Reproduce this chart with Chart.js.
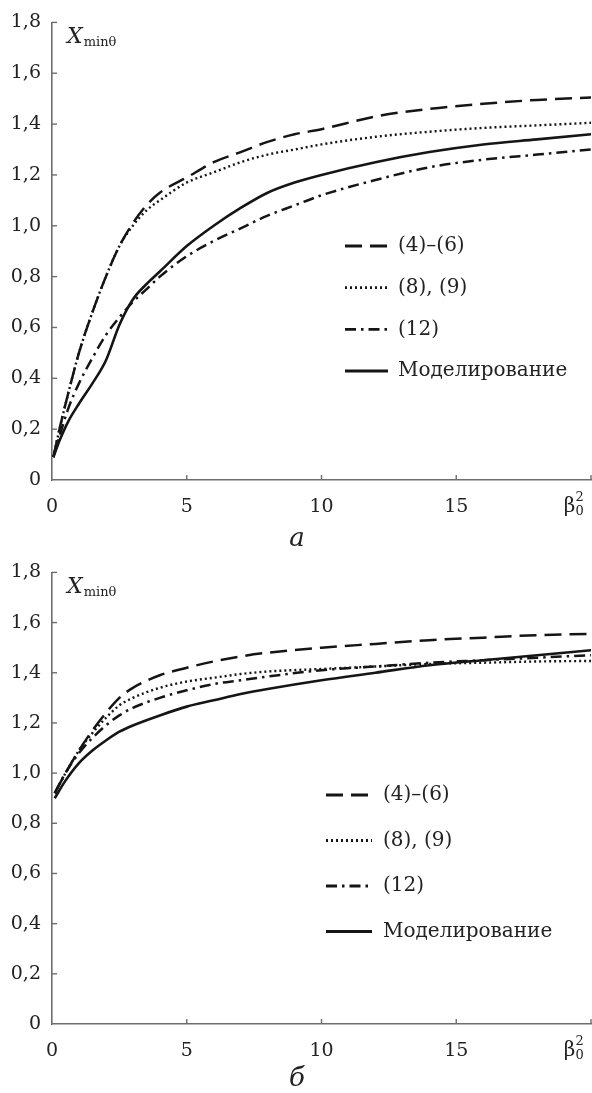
<!DOCTYPE html>
<html>
<head>
<meta charset="utf-8">
<script src="https://cdn.jsdelivr.net/npm/chart.js@4.4.0/dist/chart.umd.min.js"></script>
<style>
  html, body { margin: 0; padding: 0; background: #fff; }
  .panel { position: relative; width: 592px; }
  #boxA { height: 550px; }
  #boxB { height: 543px; }
</style>
</head>
<body>
<div class="panel" id="boxA"><canvas id="chartA"></canvas></div>
<div class="panel" id="boxB"><canvas id="chartB"></canvas></div>
<script>
// legend texts (same in both panels)
var seriesLabels = ['(4)–(6)', '(8), (9)', '(12)', 'Моделирование'];
var yTickValues = [0, 0.2, 0.4, 0.6, 0.8, 1.0, 1.2, 1.4, 1.6, 1.8];
var xTickValues = [0, 5, 10, 15];

// panel a
var xA        = [0.05, 0.3, 0.6, 1, 1.5, 2, 2.5, 3, 3.5, 4, 5, 6, 7, 8, 9, 10, 12, 14, 16, 18, 20];
var dashedA   = [0.09, 0.21, 0.34, 0.50, 0.66, 0.80, 0.92, 1.01, 1.08, 1.13, 1.19, 1.25, 1.29, 1.33, 1.36, 1.38, 1.43, 1.46, 1.48, 1.495, 1.505];
var dottedA   = [0.09, 0.21, 0.34, 0.50, 0.66, 0.80, 0.92, 1.00, 1.06, 1.10, 1.17, 1.21, 1.25, 1.28, 1.30, 1.32, 1.35, 1.37, 1.385, 1.395, 1.405];
var dashDotA  = [0.09, 0.18, 0.28, 0.38, 0.48, 0.57, 0.64, 0.70, 0.75, 0.80, 0.88, 0.94, 0.99, 1.04, 1.08, 1.12, 1.18, 1.23, 1.26, 1.28, 1.30];
var solidA    = [0.09, 0.16, 0.23, 0.30, 0.38, 0.47, 0.61, 0.71, 0.77, 0.82, 0.92, 1.00, 1.07, 1.13, 1.17, 1.20, 1.25, 1.29, 1.32, 1.34, 1.36];

// panel б
var xB        = [0.1, 0.5, 1, 1.5, 2, 2.5, 3, 4, 5, 6, 7, 8, 10, 12, 14, 16, 18, 20];
var dashedB   = [0.92, 1.00, 1.09, 1.17, 1.24, 1.30, 1.34, 1.39, 1.42, 1.445, 1.465, 1.48, 1.50, 1.515, 1.53, 1.54, 1.55, 1.555];
var dottedB   = [0.92, 1.00, 1.09, 1.16, 1.22, 1.27, 1.30, 1.34, 1.365, 1.38, 1.395, 1.405, 1.415, 1.425, 1.435, 1.44, 1.445, 1.447];
var dashDotB  = [0.92, 1.00, 1.08, 1.14, 1.19, 1.23, 1.26, 1.30, 1.33, 1.355, 1.37, 1.385, 1.41, 1.425, 1.44, 1.45, 1.46, 1.47];
var solidB    = [0.90, 0.97, 1.04, 1.09, 1.13, 1.165, 1.19, 1.23, 1.265, 1.29, 1.315, 1.335, 1.37, 1.40, 1.43, 1.45, 1.47, 1.49];

var ink = '#151515';
var axisInk = '#6e6e6e';
var textInk = '#222222';
var serif = '"DejaVu Serif", "Liberation Serif", serif';

function pts(xs, ys) {
    var out = [];
    for (var i = 0; i < xs.length; i++) out.push({x: xs[i], y: ys[i]});
    return out;
}

function makeSets(xs, a, b, c, d) {
    var styles = [
        {dash: [17, 8], w: 2.5},
        {dash: [2, 3], w: 2.4},
        {dash: [11, 5, 2.5, 5], w: 2.5},
        {dash: [], w: 2.6}
    ];
    return [a, b, c, d].map(function (ys, i) {
        return {
            label: seriesLabels[i],
            data: pts(xs, ys),
            borderColor: ink,
            borderWidth: styles[i].w,
            borderDash: styles[i].dash,
            pointRadius: 0,
            fill: false,
            cubicInterpolationMode: 'monotone'
        };
    });
}

function line(ctx, x1, y1, x2, y2) {
    ctx.beginPath(); ctx.moveTo(x1, y1); ctx.lineTo(x2, y2); ctx.stroke();
}

// inward ticks, axis name, beta label, legend, panel letter
var decoPlugin = {
    id: 'deco',
    afterDraw: function (chart, args, o) {
        var ctx = chart.ctx, a = chart.chartArea;
        var xs = chart.scales.x, ys = chart.scales.y;
        ctx.save();
        ctx.strokeStyle = axisInk;
        ctx.lineWidth = 1.4;
        ctx.setLineDash([]);
        yTickValues.forEach(function (v) {
            var py = ys.getPixelForValue(v);
            if (v > 0) line(ctx, a.left, py, a.left + 5, py);
        });
        xTickValues.concat([20]).forEach(function (v) {
            var px = xs.getPixelForValue(v);
            if (v > 0) line(ctx, px, a.bottom, px, a.bottom - 5);
        });

        ctx.fillStyle = textInk;
        ctx.textAlign = 'left';
        ctx.textBaseline = 'alphabetic';
        ctx.font = 'italic 22px ' + serif;
        ctx.fillText('X', a.left + 15, a.top + 21);
        var w = ctx.measureText('X').width;
        ctx.font = '13px ' + serif;
        ctx.fillText('minθ', a.left + 15 + w + 1, a.top + 24);

        // beta_0^2 in place of the last x tick
        var bx = xs.getPixelForValue(19.2);
        var by = a.bottom + 32;
        ctx.font = '20px ' + serif;
        ctx.textAlign = 'center';
        ctx.fillText('β', bx, by);
        ctx.font = '13px ' + serif;
        ctx.textAlign = 'left';
        ctx.fillText('0', bx + 6, by + 3);
        ctx.fillText('2', bx + 6, by - 11);

        // legend
        ctx.font = '20px ' + serif;
        ctx.textBaseline = 'middle';
        chart.data.datasets.forEach(function (ds, i) {
            var y = o.legY + i * o.legGap;
            ctx.strokeStyle = ink;
            ctx.lineWidth = ds.borderWidth + 0.4;
            ctx.setLineDash(ds.borderDash);
            line(ctx, o.legX0, y, o.legX1, y);
            ctx.setLineDash([]);
            ctx.fillStyle = textInk;
            ctx.fillText(ds.label, o.legTx, y);
        });

        // panel letter
        ctx.font = 'italic 26px ' + serif;
        ctx.textAlign = 'center';
        ctx.textBaseline = 'alphabetic';
        ctx.fillText(o.letter, o.letterX, o.letterY);
        ctx.restore();
    }
};

function fmt(v) {
    if (v === 0) return '0';
    return v.toFixed(1).replace('.', ',');
}

function build(id, sets, lay) {
    return new Chart(document.getElementById(id), {
        type: 'line',
        data: {datasets: sets},
        plugins: [decoPlugin],
        options: {
            responsive: true,
            maintainAspectRatio: false,
            animation: false,
            layout: {padding: {top: lay.top, right: 1, left: 0, bottom: 0}},
            plugins: {
                legend: {display: false},
                tooltip: {enabled: false},
                deco: lay
            },
            scales: {
                x: {
                    type: 'linear',
                    min: 0, max: 20,
                    afterFit: function (s) { s.height = lay.bottom; },
                    afterBuildTicks: function (s) {
                        s.ticks = xTickValues.map(function (v) { return {value: v}; });
                    },
                    grid: {display: true, drawOnChartArea: false, drawTicks: false},
                    border: {display: true, color: axisInk, width: 1.6},
                    ticks: {
                        padding: 16,
                        color: textInk,
                        font: {family: serif, size: 19},
                        maxRotation: 0,
                        callback: function (v) { return String(v); }
                    }
                },
                y: {
                    min: 0, max: 1.8,
                    afterFit: function (s) { s.width = 52; },
                    afterBuildTicks: function (s) {
                        s.ticks = yTickValues.map(function (v) { return {value: v}; });
                    },
                    grid: {display: true, drawOnChartArea: false, drawTicks: false},
                    border: {display: true, color: axisInk, width: 1.6},
                    ticks: {
                        padding: 11,
                        color: textInk,
                        font: {family: serif, size: 19},
                        callback: function (v) { return fmt(v); }
                    }
                }
            }
        }
    });
}

build('chartA', makeSets(xA, dashedA, dottedA, dashDotA, solidA),
    {top: 15, bottom: 70, legY: 246, legGap: 41.7, legX0: 345, legX1: 388, legTx: 398, letter: 'а', letterX: 297, letterY: 546});
build('chartB', makeSets(xB, dashedB, dottedB, dashDotB, solidB),
    {top: 11, bottom: 69, legY: 245, legGap: 45.5, legX0: 326, legX1: 372, legTx: 383, letter: 'б', letterX: 297, letterY: 536});
</script>
</body>
</html>
